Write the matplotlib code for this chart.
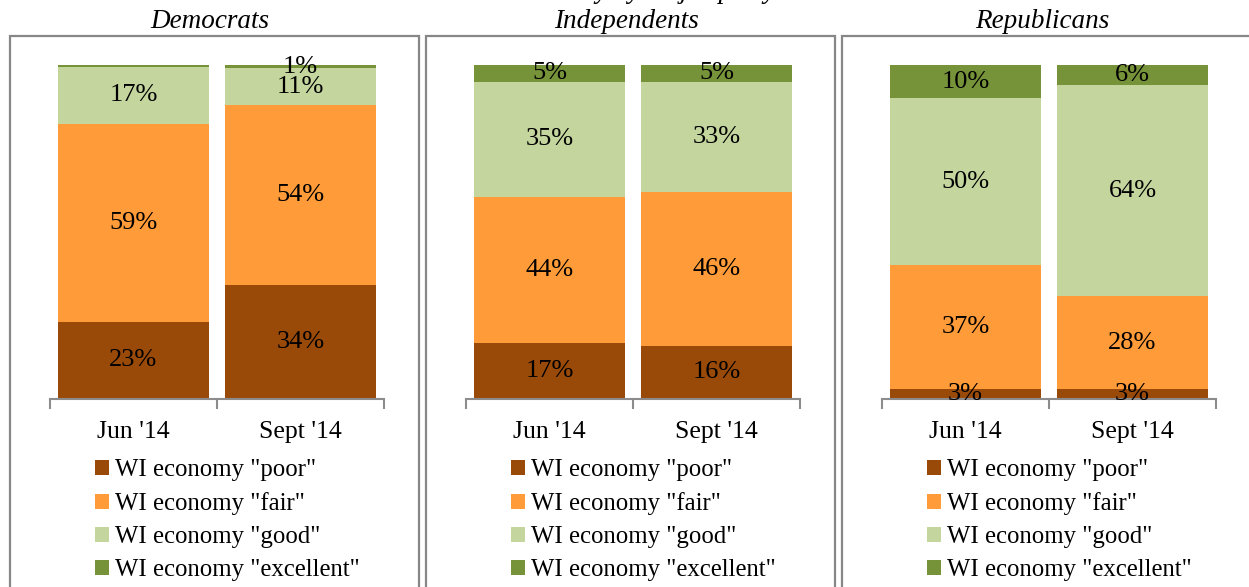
import matplotlib
matplotlib.use("Agg")
import matplotlib.pyplot as plt
from matplotlib.patches import Rectangle, Patch
import numpy as np

plt.rcParams['font.family'] = ['Liberation Serif', 'DejaVu Serif']

groups = ["Democrats", "Independents", "Republicans"]
periods = ["Jun '14", "Sept '14"]
series = ['WI economy "poor"', 'WI economy "fair"', 'WI economy "good"', 'WI economy "excellent"']
colors = ['#9A4A08', '#FF9B38', '#C4D69E', '#779339']

# values per group: [series][period]
poor = {"Democrats": [23, 34], "Independents": [17, 16], "Republicans": [3, 3]}
fair = {"Democrats": [59, 54], "Independents": [44, 46], "Republicans": [37, 28]}
good = {"Democrats": [17, 11], "Independents": [35, 33], "Republicans": [50, 64]}
excellent = {"Democrats": [0.5, 1], "Independents": [5, 5], "Republicans": [10, 6]}
# labels that are not shown (Democrats Jun "excellent")
hidden = {("Democrats", 3, 0)}

W, H = 1249, 587
fig = plt.figure(figsize=(W / 100, H / 100), dpi=100)

def fx(px):
    return px / W

def fy(py):
    return 1 - py / H

panel_left = [10, 426, 842]
axis_left = [50, 466, 882]
axis_w = 334

for gi, g in enumerate(groups):
    # panel border
    pl = panel_left[gi]
    fig.patches.append(Rectangle((fx(pl), fy(600)), fx(409), fy(36) - fy(600),
                                 transform=fig.transFigure, fill=False,
                                 edgecolor='#878787', linewidth=1.6, zorder=0))
    fig.text(fx(pl + 200), fy(22), g, ha='center', va='center',
             fontsize=19.5, style='italic')

    ax = fig.add_axes([fx(axis_left[gi]), fy(399), fx(axis_w), fy(65) - fy(399)])
    vals = np.array([poor[g], fair[g], good[g], excellent[g]], dtype=float)
    tot = vals.sum(axis=0)
    frac = vals / tot
    x = np.arange(len(periods))
    bottom = np.zeros(len(periods))
    for si in range(4):
        ax.bar(x, frac[si], 0.91, bottom=bottom, color=colors[si], linewidth=0)
        for pi in range(len(periods)):
            if (g, si, pi) in hidden:
                continue
            ax.text(x[pi], bottom[pi] + frac[si][pi] / 2, f"{vals[si][pi]:.0f}%",
                    ha='center', va='center', fontsize=19)
        bottom += frac[si]
    ax.set_xlim(-0.5, 1.5)
    ax.set_ylim(0, 1)
    for s in ['top', 'right', 'left']:
        ax.spines[s].set_visible(False)
    ax.spines['bottom'].set_color('#8c8c8c')
    ax.spines['bottom'].set_linewidth(1.5)
    ax.set_yticks([])
    ax.set_xticks([-0.5, 0.5, 1.5], minor=False)
    ax.set_xticklabels([])
    ax.tick_params(axis='x', which='major', length=7, width=1.5, color='#8c8c8c')
    ax.set_xticks(x, minor=True)
    ax.set_xticklabels(periods, minor=True, fontsize=18.5)
    ax.tick_params(axis='x', which='minor', length=0, pad=16)

    handles = [Patch(facecolor=c, edgecolor='none') for c in colors]
    ax.legend(handles, series, loc='upper left',
              bbox_to_anchor=(fx(axis_left[gi] + 45), fy(459)),
              bbox_transform=fig.transFigure, frameon=False, fontsize=17.8,
              handlelength=0.57, handleheight=0.57, handletextpad=0.22,
              labelspacing=0.45, borderpad=0, borderaxespad=0)

fig.text(0.5, fy(-9), "WI economy by major party", ha='center', va='center',
         fontsize=19.5, style='italic')

fig.savefig('out.png', dpi=100)
